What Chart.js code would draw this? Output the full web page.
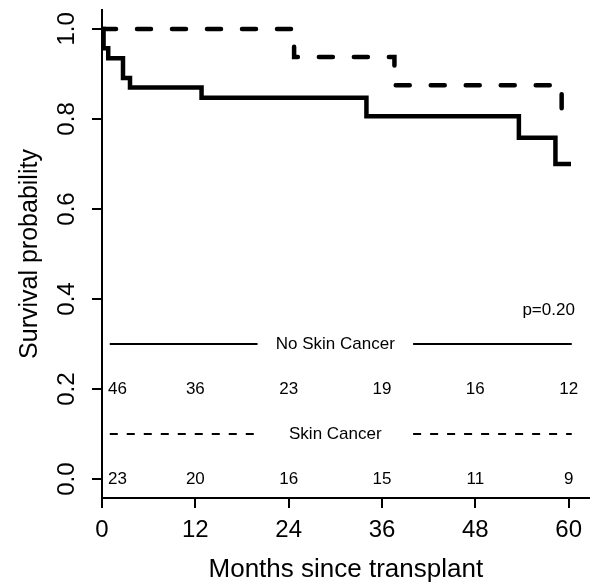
<!DOCTYPE html>
<html>
<head>
<meta charset="utf-8">
<script src="https://cdn.jsdelivr.net/npm/chart.js@4"></script>
<style>
  body { margin: 0; background: #fff; }
  canvas { display: block; }
</style>
</head>
<body>
<canvas id="kmChart" width="590" height="585"></canvas>
<script>
// survival curves
const noSkinMonths = [0, 0.2, 0.8, 2.7, 3.6, 12.8, 34.0, 53.6, 58.3, 60.3];
const noSkinSurv   = [1, 0.957, 0.935, 0.891, 0.870, 0.847, 0.806, 0.758, 0.700, 0.700];
const skinMonths   = [0, 24.7, 37.6, 59.1];
const skinSurv     = [1, 0.9375, 0.875, 0.81];

// numbers at risk
const riskMonths   = [0, 12, 24, 36, 48, 60];
const noSkinAtRisk = [46, 36, 23, 19, 16, 12];
const skinAtRisk   = [23, 20, 16, 15, 11, 9];

const xTicks = [0, 12, 24, 36, 48, 60];
const yTicks = [0, 0.2, 0.4, 0.6, 0.8, 1.0];
const pValueText = 'p=0.20';

const FONT = '"Liberation Sans", Arial, sans-serif';

const toPoints = (xs, ys) => xs.map((x, i) => ({ x: x, y: ys[i] }));

// risk table, p value and rotated y tick labels
const annotations = {
  id: 'annotations',
  afterDraw(chart) {
    const { ctx, scales: { x, y } } = chart;
    ctx.save();
    ctx.fillStyle = '#000';
    ctx.strokeStyle = '#000';
    ctx.textBaseline = 'middle';

    // y tick labels, R style (rotated)
    ctx.font = '24px ' + FONT;
    ctx.textAlign = 'center';
    yTicks.forEach(v => {
      ctx.save();
      ctx.translate(67, y.getPixelForValue(v));
      ctx.rotate(-Math.PI / 2);
      ctx.fillText(v.toFixed(1), 0, 0);
      ctx.restore();
    });

    ctx.font = '17px ' + FONT;

    const groupHeader = (label, yVal, dash) => {
      const py = y.getPixelForValue(yVal);
      ctx.lineWidth = 2;
      ctx.setLineDash(dash);
      ctx.beginPath();
      ctx.moveTo(x.getPixelForValue(1), py);
      ctx.lineTo(x.getPixelForValue(20), py);
      ctx.moveTo(x.getPixelForValue(40), py);
      ctx.lineTo(x.getPixelForValue(60.4), py);
      ctx.stroke();
      ctx.setLineDash([]);
      ctx.textAlign = 'center';
      ctx.fillText(label, x.getPixelForValue(30), py);
    };

    const counts = (vals, yVal) => {
      const py = y.getPixelForValue(yVal);
      vals.forEach((n, i) => {
        const px = x.getPixelForValue(riskMonths[i]);
        if (i === 0) {
          ctx.textAlign = 'left';
          ctx.fillText(String(n), px + 6, py);
        } else {
          ctx.textAlign = 'center';
          ctx.fillText(String(n), px, py);
        }
      });
    };

    groupHeader('No Skin Cancer', 0.3, []);
    counts(noSkinAtRisk, 0.2);
    groupHeader('Skin Cancer', 0.1, [8, 9]);
    counts(skinAtRisk, 0.0);

    ctx.textAlign = 'right';
    ctx.fillText(pValueText, x.getPixelForValue(60.8), y.getPixelForValue(0.375));
    ctx.restore();
  }
};

new Chart(document.getElementById('kmChart'), {
  type: 'line',
  data: {
    datasets: [
      {
        label: 'No Skin Cancer',
        data: toPoints(noSkinMonths, noSkinSurv),
        stepped: true,
        borderColor: '#000',
        borderWidth: 4.5,
        pointRadius: 0,
        fill: false
      },
      {
        label: 'Skin Cancer',
        data: toPoints(skinMonths, skinSurv),
        stepped: true,
        borderColor: '#000',
        borderWidth: 4.5,
        borderDash: [14, 21],
        borderCapStyle: 'round',
        pointRadius: 0,
        fill: false
      }
    ]
  },
  options: {
    responsive: false,
    animation: false,
    layout: { padding: { top: 10, right: 0, left: 0, bottom: 0 } },
    plugins: { legend: { display: false }, tooltip: { enabled: false } },
    scales: {
      x: {
        type: 'linear',
        min: 0,
        max: 62.7,
        afterBuildTicks: s => { s.ticks = xTicks.map(v => ({ value: v })); },
        afterFit: s => { s.height = 87; },
        ticks: { color: '#000', font: { family: FONT, size: 24 }, padding: 8, maxRotation: 0 },
        grid: { drawOnChartArea: false, drawTicks: true, tickLength: 10, color: '#000', lineWidth: 2 },
        border: { display: true, color: '#000', width: 2 },
        title: {
          display: true,
          text: 'Months since transplant',
          color: '#000',
          font: { family: FONT, size: 26 },
          padding: { top: 0, bottom: 0 }
        }
      },
      y: {
        type: 'linear',
        min: -0.042,
        max: 1.042,
        afterBuildTicks: s => { s.ticks = yTicks.map(v => ({ value: v })); },
        afterFit: s => { s.width = 102; },
        ticks: { display: false },
        grid: { drawOnChartArea: false, drawTicks: true, tickLength: 10, color: '#000', lineWidth: 2 },
        border: { display: true, color: '#000', width: 2 },
        title: {
          display: true,
          text: 'Survival probability',
          color: '#000',
          font: { family: FONT, size: 25 },
          padding: { top: 15, bottom: 0 }
        }
      }
    }
  },
  plugins: [annotations]
});
</script>
</body>
</html>
